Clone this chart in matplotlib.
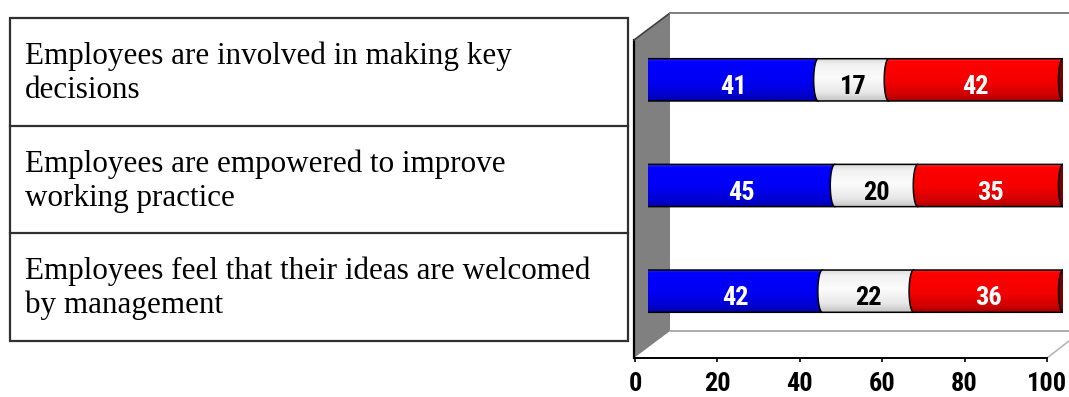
import numpy as np
import matplotlib
matplotlib.use("Agg")
import matplotlib.pyplot as plt
from matplotlib.patches import Polygon, PathPatch, Ellipse, Rectangle
from matplotlib.path import Path
from matplotlib.colors import to_rgb

# ---- data -------------------------------------------------------------
statements = [
    "Employees are involved in making key\ndecisions",
    "Employees are empowered to improve\nworking practice",
    "Employees feel that their ideas are welcomed\nby management",
]
agree = [41, 45, 42]
neutral = [17, 20, 22]
disagree = [42, 35, 36]
x_ticks = [0, 20, 40, 60, 80, 100]

# ---- figure -----------------------------------------------------------
W, H = 1069, 397
fig = plt.figure(figsize=(W / 100, H / 100), dpi=100)
fig.patch.set_facecolor("white")

NARROW = ["Roboto Condensed", "Liberation Sans"]
SERIF = ["Liberation Serif", "DejaVu Serif"]


def px_axes(x0, x1, y0, y1, **kw):
    """Axes placed by pixel bounds (y measured from the top)."""
    return fig.add_axes([x0 / W, (H - y1) / H, (x1 - x0) / W, (y1 - y0) / H], **kw)


# background layer in pixel units for the table and the chart walls
bg = px_axes(0, W, 0, H)
bg.set_xlim(0, W)
bg.set_ylim(H, 0)
bg.axis("off")

# statement table
tab_l, tab_r, tab_t, tab_b = 10, 628, 18, 341
row_h = (tab_b - tab_t) / len(statements)
bg.add_patch(Rectangle((tab_l, tab_t), tab_r - tab_l, tab_b - tab_t,
                       fill=False, ec="#303030", lw=1.6))
for i, text in enumerate(statements):
    top = tab_t + i * row_h
    if i > 0:
        bg.plot([tab_l, tab_r], [top, top], color="#303030", lw=1.6)
    for j, line in enumerate(text.split("\n")):
        bg.text(25, top + 46 + 34 * j, line, fontsize=22.4, family=SERIF,
                color="black", va="baseline", ha="left")

# 3-D walls of the chart
wall = Polygon([(634, 40), (670, 13), (670, 331), (634, 358)],
               closed=True, fc="#808080", ec="none")
bg.add_patch(wall)
bg.plot([634, 634], [40, 358], color="black", lw=1.6)
bg.plot([634, 670], [40, 13], color="#404040", lw=1.2)
bg.plot([670, W], [13, 13], color="#808080", lw=1.4)
bg.plot([670, W], [331, 331], color="#a0a0a0", lw=1.2)
bg.plot([1047, W], [358, 341], color="#b8b8b8", lw=1.2)

# ---- cylinder bars ------------------------------------------------------
ax = px_axes(648, 1063, 27, 344)
n = len(agree)

BAR_H = 0.40
CAP_A = 1.08  # half-width of the elliptical ends, in value units


def profile(stops, colors, n=64):
    v = np.linspace(0, 1, n)
    rgb = np.array([to_rgb(c) for c in colors])
    out = np.stack([np.interp(v, stops, rgb[:, k]) for k in range(3)], axis=1)
    return out[:, None, :]


SHADES = {
    "blue": profile([0, 0.08, 0.55, 0.85, 1],
                    ["#3030ff", "#0000ff", "#0000f4", "#0000d0", "#0000a8"]),
    "white": profile([0, 0.15, 0.45, 0.8, 1],
                     ["#d8d8d8", "#f2f2f2", "#fcfcfc", "#e8e8e8", "#c4c4c4"]),
    "red": profile([0, 0.08, 0.55, 0.85, 1],
                   ["#ff3030", "#ff0000", "#f40000", "#d00000", "#a80000"]),
}


def cylinder_segment(y, left, width, shade, z):
    right = left + width
    h = BAR_H
    t = np.linspace(0, np.pi, 40)
    arc = np.column_stack([left - CAP_A * np.sin(t), y - h / 2 * np.cos(t)])
    verts = np.vstack([[right, y - h / 2], arc, [right, y + h / 2], [right, y - h / 2]])
    codes = [Path.MOVETO] + [Path.LINETO] * (len(verts) - 2) + [Path.CLOSEPOLY]
    patch = PathPatch(Path(verts, codes), fc="none", ec="black", lw=1.1, zorder=z + 0.5)
    ax.add_patch(patch)
    im = ax.imshow(SHADES[shade], extent=(left - CAP_A, right, y + h / 2, y - h / 2),
                   aspect="auto", interpolation="bilinear", origin="upper", zorder=z)
    im.set_clip_path(patch)


for i in range(n):
    parts = [(agree[i], "blue", "white"),
             (neutral[i], "white", "black"),
             (disagree[i], "red", "white")]
    left = 0
    for k, (val, shade, tcol) in enumerate(parts):
        cylinder_segment(i, left, val, shade, z=2 + k)
        ax.text(left + val / 2, i + 0.135, f"{val}", ha="center", va="baseline",
                fontsize=19, fontweight="bold", family=NARROW, color=tcol, zorder=10)
        left += val
    ax.add_patch(Ellipse((left, i), 2 * CAP_A, BAR_H, fc="#780000", ec="black",
                         lw=1.1, zorder=6))

ax.set_xlim(0, 100)
ax.set_ylim(n - 0.5, -0.5)
ax.axis("off")

# ---- value axis along the front floor edge -------------------------------
axf = px_axes(635, 1047, 340, 358)
axf.patch.set_visible(False)
for s in ("top", "left", "right"):
    axf.spines[s].set_visible(False)
axf.spines["bottom"].set_linewidth(1.4)
axf.set_xlim(0, 100)
axf.set_yticks([])
axf.set_xticks(x_ticks)
axf.set_xticklabels([str(t) for t in x_ticks])
axf.tick_params(axis="x", length=3, width=1.2, pad=7, labelsize=19)
for lbl in axf.get_xticklabels():
    lbl.set_fontfamily(NARROW)
    lbl.set_fontweight("bold")

fig.savefig("out.png", dpi=100, facecolor="white")
